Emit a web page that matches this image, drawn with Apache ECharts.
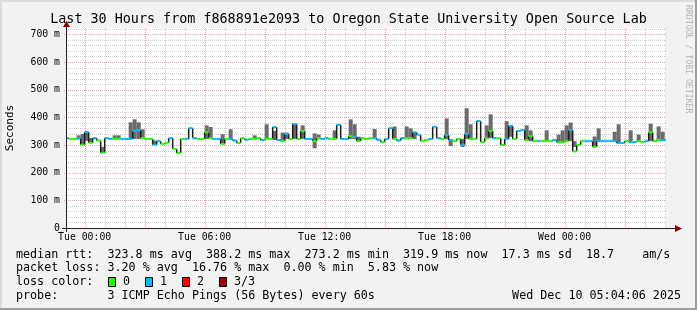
<!DOCTYPE html>
<html><head><meta charset="utf-8">
<script src="https://cdn.jsdelivr.net/npm/echarts@6/dist/echarts.min.js"></script>
<style>html,body{margin:0;padding:0;background:#f2f2f2;}#c{width:697px;height:310px;}</style>
</head><body><div id="c"></div>
<script>
// Time in minutes relative to Tue 00:00
const VIEW_START = -56;    // Mon 23:04
const VIEW_END = 1744;     // Wed 05:04
const BUCKET_START = -60;  // first 12-minute consolidation bucket
const BUCKET_MIN = 12;

// median rtt per bucket (ms)
const medianRtt = [
  325,322,322,325,301,347,308,325,316,272,
  325,322,322,322,322,322,322,351,354,325,
  322,322,301,314,304,308,325,286,271,322,
  322,361,325,322,322,346,325,322,322,304,
  322,322,316,307,325,319,322,322,325,318,
  322,322,365,318,314,340,322,376,322,351,
  322,322,314,325,322,325,322,322,373,322,
  322,332,329,314,325,322,325,325,319,311,
  322,361,322,316,325,325,325,346,337,314,
  318,322,366,325,322,336,317,314,322,301,
  340,322,322,387,311,325,351,325,325,300,
  322,369,322,351,354,318,332,314,314,314,
  314,314,318,310,310,314,354,277,300,314,
  314,314,293,314,314,314,314,314,307,307,
  314,311,311,314,311,314,346,314,318,318,
  318
];
// lost pings per bucket (0..3)
const lossCount = [
  1,0,0,1,0,1,0,1,0,0,
  1,1,0,0,1,1,1,1,1,0,
  0,0,1,1,0,0,1,0,0,0,
  1,1,1,0,0,0,0,1,1,0,
  0,1,1,0,0,1,0,0,0,1,
  0,0,1,1,0,1,0,1,0,0,
  1,1,0,0,1,1,0,0,1,1,
  1,0,1,0,0,0,0,1,1,0,
  1,1,0,1,1,0,0,1,1,0,
  0,1,1,1,0,1,1,0,0,1,
  1,0,0,1,0,0,0,1,0,0,
  1,1,0,1,1,0,0,0,1,0,
  0,0,1,0,0,0,1,0,0,0,
  1,1,0,1,1,1,1,1,1,1,
  0,1,1,0,0,1,0,0,0,1,
  1
];
// smoke (ping spread) lower / upper per bucket (ms)
const smokeMin = [
  null,null,null,320,300,315,308,null,null,272,
  null,null,322,322,null,null,322,322,322,322,
  null,null,301,null,null,null,null,null,null,null,
  null,null,null,null,null,322,322,null,null,304,
  null,322,null,null,null,null,null,322,null,null,
  322,null,318,null,314,322,null,322,null,322,
  null,null,288,322,null,null,null,322,null,null,
  null,322,322,314,null,null,null,322,null,null,
  null,null,322,null,null,322,322,322,null,null,
  null,null,null,null,null,322,296,null,null,293,
  322,322,null,null,null,322,325,null,null,null,
  322,330,null,null,null,314,314,null,null,null,
  314,null,null,310,310,314,314,293,null,null,
  null,null,293,314,null,null,null,314,307,null,
  null,314,null,314,null,null,314,null,314,314,
  null
];
const smokeMax = [
  null,null,null,335,340,347,325,null,null,293,
  null,null,335,335,null,null,382,393,382,357,
  null,null,316,null,null,null,null,null,null,null,
  null,null,null,null,null,371,365,null,null,339,
  null,357,null,null,null,null,null,335,null,null,
  375,null,351,null,345,345,null,378,null,371,
  null,null,342,338,null,null,null,353,null,null,
  null,393,375,330,null,null,null,358,null,null,
  null,null,367,null,null,367,360,346,null,null,
  null,null,null,null,null,396,322,null,null,322,
  433,375,null,null,null,371,411,null,null,null,
  386,371,null,null,null,371,353,null,null,null,
  353,null,null,338,353,371,381,314,null,null,
  null,null,331,360,null,null,null,348,375,null,
  null,353,null,338,null,null,377,null,367,348,
  null
];

const xTickMinutes = [0, 360, 720, 1080, 1440];
const xTickLabels = ['Tue 00:00', 'Tue 06:00', 'Tue 12:00', 'Tue 18:00', 'Wed 00:00'];
const yTickValues = [0, 100, 200, 300, 400, 500, 600, 700];
const yTickLabels = ['0', '100 m', '200 m', '300 m', '400 m', '500 m', '600 m', '700 m'];
const lossLegendLabels = ['0', '1', '2', '3/3'];

const titleText = 'Last 30 Hours from f868891e2093 to Oregon State University Open Source Lab';
const rttLine = 'median rtt:  323.8 ms avg  388.2 ms max  273.2 ms min  319.9 ms now  17.3 ms sd  18.7    am/s';
const lossLine = 'packet loss: 3.20 % avg  16.76 % max  0.00 % min  5.83 % now';
const lossColorLabel = 'loss color:';
const probeLine = 'probe:       3 ICMP Echo Pings (56 Bytes) every 60s';
const dateLine = 'Wed Dec 10 05:04:06 2025';
const sideText = 'RRDTOOL / TOBI OETIKER';

// styles
const lossColors = ['#26ff00', '#00b8ff', '#ff0000', '#a00000'];
const FONT = 'DejaVu Sans Mono';
const Y_MAX = 723;

// grid line positions (hourly vertical, every 20 ms horizontal)
const vGrid = [];
for (let m = 0; m <= VIEW_END; m += 60) vGrid.push([m]);
const hGrid = [];
for (let v = 0; v <= 720; v += 20) hGrid.push([v]);

const medianData = medianRtt.map((m, i) => [
  BUCKET_START + i * BUCKET_MIN, BUCKET_START + (i + 1) * BUCKET_MIN,
  m, lossCount[i], i > 0 ? medianRtt[i - 1] : m
]);
const smokeData = [];
smokeMin.forEach((lo, i) => {
  if (lo != null && smokeMax[i] != null)
    smokeData.push([BUCKET_START + i * BUCKET_MIN, BUCKET_START + (i + 1) * BUCKET_MIN, lo, smokeMax[i]]);
});

const clampT = t => Math.min(Math.max(t, VIEW_START), VIEW_END);

const chart = echarts.init(document.getElementById('c'), null, {renderer: 'canvas', width: 697, height: 310});

const graphics = [
  {type: 'rect', shape: {x: 0, y: 0, width: 697, height: 2}, style: {fill: '#dcdcdc'}, silent: true},
  {type: 'rect', shape: {x: 0, y: 0, width: 2, height: 310}, style: {fill: '#dcdcdc'}, silent: true},
  {type: 'rect', shape: {x: 0, y: 308, width: 697, height: 2}, style: {fill: '#9e9e9e'}, silent: true},
  {type: 'rect', shape: {x: 695, y: 0, width: 2, height: 310}, style: {fill: '#9e9e9e'}, silent: true},
  {type: 'text', x: 348.5, y: 19.5, silent: true,
    style: {text: titleText, fontFamily: FONT, fontSize: 13.4, fill: '#000', align: 'center', verticalAlign: 'middle'}},
  {type: 'text', x: 16, y: 254.5, silent: true,
    style: {text: rttLine, fontFamily: FONT, fontSize: 11.7, fill: '#000', align: 'left', verticalAlign: 'middle'}},
  {type: 'text', x: 16, y: 268.3, silent: true,
    style: {text: lossLine, fontFamily: FONT, fontSize: 11.7, fill: '#000', align: 'left', verticalAlign: 'middle'}},
  {type: 'text', x: 16, y: 282.3, silent: true,
    style: {text: lossColorLabel, fontFamily: FONT, fontSize: 11.7, fill: '#000', align: 'left', verticalAlign: 'middle'}},
  {type: 'text', x: 16, y: 296.2, silent: true,
    style: {text: probeLine, fontFamily: FONT, fontSize: 11.7, fill: '#000', align: 'left', verticalAlign: 'middle'}},
  {type: 'text', x: 681, y: 296.2, silent: true,
    style: {text: dateLine, fontFamily: FONT, fontSize: 11.7, fill: '#000', align: 'right', verticalAlign: 'middle'}},
  {type: 'text', x: 688, y: 5, rotation: -Math.PI / 2, silent: true,
    style: {text: sideText, fontFamily: FONT, fontSize: 8.2, fill: '#b4b4b4', align: 'left', verticalAlign: 'middle'}},
  // axis extensions and arrows
  {type: 'line', shape: {x1: 62, y1: 228.5, x2: 676, y2: 228.5}, style: {stroke: '#202020', lineWidth: 1}, z: 50, silent: true},
  {type: 'line', shape: {x1: 66.5, y1: 232, x2: 66.5, y2: 25}, style: {stroke: '#202020', lineWidth: 1}, z: 50, silent: true},
  {type: 'polygon', shape: {points: [[682, 228.5], [675, 225], [675, 232]]}, style: {fill: '#800000'}, z: 51, silent: true},
  {type: 'polygon', shape: {points: [[66.5, 21], [63, 27], [70, 27]]}, style: {fill: '#800000'}, z: 51, silent: true}
];
lossLegendLabels.forEach((lab, i) => {
  graphics.push({type: 'rect', shape: {x: 108.5 + 37 * i, y: 277.5, width: 7, height: 9},
    style: {fill: lossColors[i], stroke: '#000', lineWidth: 1}, silent: true});
  graphics.push({type: 'text', x: 123 + 37 * i, y: 282.3, silent: true,
    style: {text: lab, fontFamily: FONT, fontSize: 11.7, fill: '#000', align: 'left', verticalAlign: 'middle'}});
});

chart.setOption({
  animation: false,
  backgroundColor: '#f2f2f2',
  grid: {left: 66, right: 31, top: 28, bottom: 82, containLabel: false, outerBoundsMode: 'none',
    show: true, backgroundColor: '#ffffff', borderWidth: 0},
  xAxis: {
    type: 'value', min: VIEW_START, max: VIEW_END, interval: 8,
    axisLine: {show: false, onZero: false},
    axisTick: {show: false}, splitLine: {show: false},
    axisLabel: {
      margin: 4, fontFamily: FONT, fontSize: 9.8, color: '#000',
      showMinLabel: true, showMaxLabel: true,
      formatter: v => { const i = xTickMinutes.indexOf(v); return i >= 0 ? xTickLabels[i] : ''; }
    }
  },
  yAxis: {
    type: 'value', min: 0, max: Y_MAX, interval: 100,
    axisLine: {show: false, onZero: false},
    axisTick: {show: false}, splitLine: {show: false},
    axisLabel: {
      margin: 6, fontFamily: FONT, fontSize: 9.8, color: '#000',
      formatter: v => { const i = yTickValues.indexOf(v); return i >= 0 ? yTickLabels[i] : ''; }
    },
    name: 'Seconds', nameLocation: 'middle', nameGap: 50, nameRotate: 90,
    nameTextStyle: {fontFamily: FONT, fontSize: 11, color: '#000'}
  },
  graphic: graphics,
  series: [
    { // vertical grid
      type: 'custom', silent: true, z: 1, data: vGrid,
      renderItem: (params, api) => {
        const v = api.value(0);
        const cs = params.coordSys;
        const x = Math.round(api.coord([v, 0])[0]) + 0.5;
        const major = v % 180 === 0;
        return {type: 'line', shape: {x1: x, y1: cs.y, x2: x, y2: cs.y + cs.height + (major ? 2 : 0)},
          style: {stroke: major ? 'rgba(222,80,80,0.5)' : 'rgba(130,130,130,0.38)', lineWidth: 1, lineDash: [1, 1]}};
      }
    },
    { // horizontal grid
      type: 'custom', silent: true, z: 1, data: hGrid,
      renderItem: (params, api) => {
        const v = api.value(0);
        const cs = params.coordSys;
        const y = Math.round(api.coord([VIEW_START, v])[1]) + 0.5;
        const major = v % 100 === 0;
        if (v === 0) return;
        return {type: 'line', shape: {x1: cs.x - (major ? 2 : 0), y1: y, x2: cs.x + cs.width, y2: y},
          style: {stroke: major ? 'rgba(222,80,80,0.5)' : 'rgba(130,130,130,0.38)', lineWidth: 1, lineDash: [1, 1]}};
      }
    },
    { // smoke
      type: 'custom', silent: true, z: 2, data: smokeData,
      renderItem: (params, api) => {
        const s = clampT(api.value(0)), e = clampT(api.value(1));
        if (e <= s) return;
        const p1 = api.coord([s, api.value(3)]);
        const p2 = api.coord([e, api.value(2)]);
        return {type: 'rect', shape: {x: p1[0], y: p1[1], width: p2[0] - p1[0], height: p2[1] - p1[1]},
          style: {fill: '#6c6c6c'}};
      }
    },
    { // median step connectors
      type: 'custom', silent: true, z: 3, data: medianData,
      renderItem: (params, api) => {
        const s = api.value(0);
        if (s < VIEW_START || s > VIEW_END) return;
        const m = api.value(2), pm = api.value(4);
        if (m === pm) return;
        const a = api.coord([s, pm]), b = api.coord([s, m]);
        return {type: 'line', shape: {x1: a[0], y1: a[1], x2: b[0], y2: b[1]},
          style: {stroke: '#1a1a1a', lineWidth: 1.5}};
      }
    },
    { // median coloured by loss
      type: 'custom', silent: true, z: 4, data: medianData,
      renderItem: (params, api) => {
        const s = clampT(api.value(0)), e = clampT(api.value(1));
        if (e <= s) return;
        const m = api.value(2);
        const a = api.coord([s, m]), b = api.coord([e, m]);
        return {type: 'line', shape: {x1: a[0], y1: a[1], x2: b[0], y2: b[1]},
          style: {stroke: lossColors[api.value(3)], lineWidth: 2}};
      }
    }
  ]
});
</script>
</body></html>
